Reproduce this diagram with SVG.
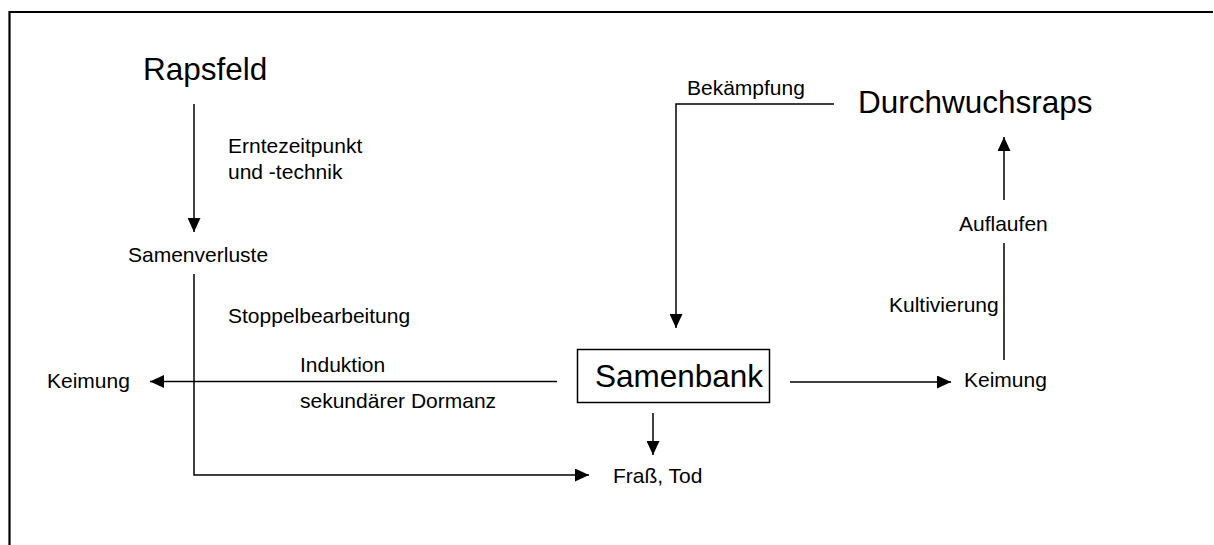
<svg xmlns="http://www.w3.org/2000/svg" width="1214" height="545" viewBox="0 0 1214 545">
<style>
text{font-family:"Liberation Sans",Arial,sans-serif;fill:#000}
.big{font-size:31.5px}
.sm{font-size:21px}
.c{fill:none;stroke:#000;stroke-width:1.5}
</style>
<defs>
<marker id="ah" markerUnits="userSpaceOnUse" markerWidth="14" markerHeight="13" refX="14" refY="6.5" orient="auto">
<path d="M0,0 L14,6.5 L0,13 z" fill="#000"/>
</marker>
</defs>
<rect width="1214" height="545" fill="#fff"/>
<path d="M9.5,545 V12 H1213" fill="none" stroke="#000" stroke-width="2.2"/>
<g id="connectors">
<path class="c" d="M194,104 V232" marker-end="url(#ah)"/>
<path class="c" d="M194,274 V475 H589" marker-end="url(#ah)"/>
<path class="c" d="M557,381.5 H150" marker-end="url(#ah)"/>
<path class="c" d="M790,382 H951" marker-end="url(#ah)"/>
<path class="c" d="M653,413 V455" marker-end="url(#ah)"/>
<path class="c" d="M1004,360 V243"/>
<path class="c" d="M1004,200 V137" marker-end="url(#ah)"/>
<path class="c" d="M834,104 H676 V328" marker-end="url(#ah)"/>
</g>
<g id="labels">
<text class="sm" x="228" y="153">Erntezeitpunkt</text>
<text class="sm" x="228" y="179">und -technik</text>
<text class="sm" x="228" y="323">Stoppelbearbeitung</text>
<text class="sm" x="300" y="372">Induktion</text>
<text class="sm" x="300" y="408">sekundärer Dormanz</text>
<text class="sm" x="687" y="95">Bekämpfung</text>
<text class="sm" x="889" y="312">Kultivierung</text>
</g>
<g id="rapsfeld"><text class="big" x="143" y="80">Rapsfeld</text></g>
<g id="samenverluste"><text class="sm" x="128" y="262">Samenverluste</text></g>
<g id="keimung-left"><text class="sm" x="47" y="388">Keimung</text></g>
<g id="samenbank">
<rect x="577.5" y="349.5" width="192" height="53" fill="none" stroke="#000" stroke-width="1.5"/>
<text class="big" x="595" y="387">Samenbank</text>
</g>
<g id="frass"><text class="sm" x="613" y="483">Fraß, Tod</text></g>
<g id="keimung-right"><text class="sm" x="964" y="387">Keimung</text></g>
<g id="auflaufen"><text class="sm" x="959" y="231">Auflaufen</text></g>
<g id="durchwuchsraps"><text class="big" x="858" y="113">Durchwuchsraps</text></g>
</svg>
